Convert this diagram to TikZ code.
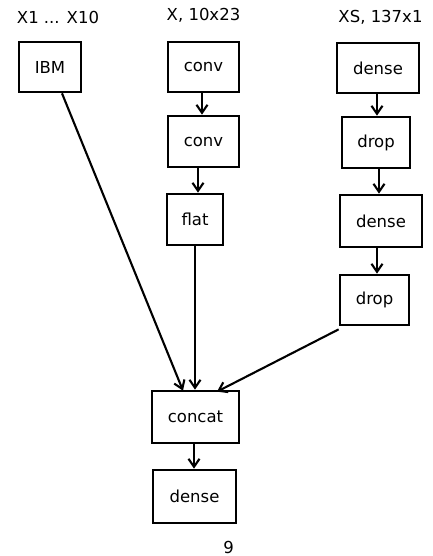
\documentclass[tikz,border=0pt]{standalone}
\usepackage{fontspec}
\setmainfont{DejaVu Sans}
\usetikzlibrary{arrows.meta}
\begin{document}
\begin{tikzpicture}[x=1pt,y=-1pt,
  layer/.style={draw=black, line width=2.7pt, fill=white, inner sep=0pt,
    font=\fontsize{16.5}{19}\selectfont},
  head/.style={font=\fontsize{16.5}{19}\selectfont, inner sep=0pt},
  arr/.style={line width=2.1pt, -{Straight Barb[length=8pt,width=11pt,line width=2.1pt]}}]
\useasboundingbox (0,0) rectangle (433,556);

% input labels
\node[head] (in1) at (58,17) {X1 ... X10};
\node[head] (in2) at (203.5,15) {X, 10x23};
\node[head] (in3) at (380.5,17.5) {XS, 137x1};

% left branch
\node[layer, minimum width=62pt, minimum height=50pt] (ibm) at (50,67) {IBM};

% middle branch
\node[layer, minimum width=71pt, minimum height=50pt] (conv1) at (203.5,67) {conv};
\node[layer, minimum width=71pt, minimum height=51pt] (conv2) at (203.5,141.5) {conv};
\node[layer, minimum width=56pt, minimum height=51pt] (flat) at (195,219.5) {flat};

% right branch
\node[layer, minimum width=82pt, minimum height=50pt] (dense1) at (378,68) {dense};
\node[layer, minimum width=68pt, minimum height=51pt] (drop1) at (376,142.5) {drop};
\node[layer, minimum width=82pt, minimum height=52pt] (dense2) at (381,221) {dense};
\node[layer, minimum width=69pt, minimum height=50pt] (drop2) at (374.5,300) {drop};

% merge and output
\node[layer, minimum width=87pt, minimum height=52pt] (concat) at (195.5,417) {concat};
\node[layer, minimum width=83pt, minimum height=53pt] (dense3) at (194.5,496.5) {dense};

\node[head] (count) at (228.5,547.5) {9};

% connectors
\draw[arr] ([xshift=-1.5pt]conv1.south) -- ([xshift=-1.5pt]conv2.north);
\draw[arr] ([xshift=-5.5pt]conv2.south) -- ([xshift=3pt]flat.north);
\draw[arr] (flat.south) -- ([xshift=-0.5pt]concat.north);

\draw[arr] ([xshift=-1pt]dense1.south) -- ([xshift=1pt]drop1.north);
\draw[arr] ([xshift=3pt]drop1.south) -- ([xshift=-2pt]dense2.north);
\draw[arr] ([xshift=-4pt]dense2.south) -- ([xshift=2.5pt]drop2.north);

\draw[arr] ([xshift=12pt]ibm.south) -- ([xshift=-12.5pt,yshift=-1pt]concat.north);
\draw[arr] ([yshift=-3pt]drop2.south west) -- ([xshift=21.5pt,yshift=-2pt]concat.north);

\draw[arr] ([xshift=-1.5pt]concat.south) -- ([xshift=-0.5pt]dense3.north);
\end{tikzpicture}
\end{document}
